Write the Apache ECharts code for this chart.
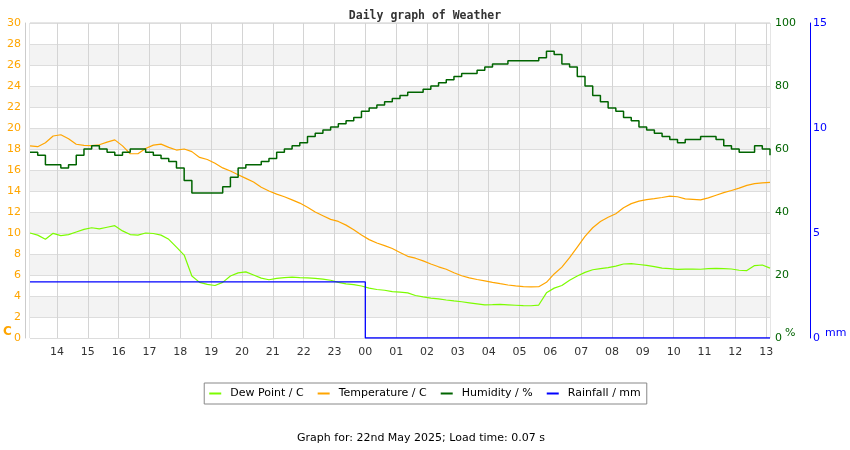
<!DOCTYPE html>
<html>
<head>
<meta charset="utf-8">
<script src="https://cdn.jsdelivr.net/npm/echarts@6/dist/echarts.min.js"></script>
<style>
html,body{margin:0;padding:0;background:#fff;}
#chart{width:850px;height:450px;}
</style>
</head>
<body>
<div id="chart"></div>
<script>
// time axis: hours since 21 May 13:00; samples every 15 minutes starting 13:07:30
const startHour = 0.125;
const stepHours = 0.25;
const hourTicks = [1,2,3,4,5,6,7,8,9,10,11,12,13,14,15,16,17,18,19,20,21,22,23,24];
const hourLabels = ['14','15','16','17','18','19','20','21','22','23','00','01','02','03','04','05','06','07','08','09','10','11','12','13'];

const temperatureC = [
 18.3,18.22,18.6,19.24,19.36,18.98,18.45,18.35,18.32,18.4,
 18.65,18.87,18.3,17.55,17.55,18.05,18.37,18.46,18.15,17.9,
 18.0,17.75,17.2,17.0,16.65,16.2,15.9,15.55,15.2,14.85,
 14.35,14.0,13.7,13.45,13.15,12.85,12.45,12.0,11.65,11.3,
 11.1,10.75,10.3,9.8,9.37,9.05,8.8,8.52,8.15,7.78,
 7.6,7.35,7.05,6.78,6.55,6.22,5.93,5.73,5.57,5.44,
 5.3,5.17,5.05,4.96,4.89,4.87,4.88,5.3,6.1,6.75,
 7.65,8.65,9.67,10.5,11.1,11.5,11.83,12.4,12.8,13.03,
 13.18,13.27,13.38,13.52,13.45,13.25,13.2,13.15,13.35,13.6,
 13.85,14.05,14.27,14.53,14.7,14.78,14.83
];

const dewPointC = [
 10.0,9.8,9.4,9.97,9.75,9.85,10.1,10.35,10.5,10.4,
 10.55,10.7,10.2,9.85,9.8,10.0,9.95,9.8,9.4,8.65,
 7.9,5.9,5.3,5.1,5.0,5.3,5.9,6.2,6.3,6.0,
 5.7,5.55,5.68,5.75,5.8,5.75,5.72,5.68,5.6,5.5,
 5.3,5.15,5.08,4.95,4.75,4.62,4.55,4.42,4.37,4.3,
 4.05,3.92,3.8,3.72,3.62,3.53,3.45,3.35,3.25,3.15,
 3.17,3.2,3.16,3.12,3.08,3.07,3.14,4.3,4.75,5.0,
 5.5,5.9,6.25,6.5,6.6,6.7,6.85,7.05,7.08,7.0,
 6.92,6.8,6.65,6.6,6.54,6.56,6.57,6.55,6.6,6.63,
 6.6,6.57,6.45,6.42,6.9,6.95,6.65
];

const humidityPct = [
 59,58,55,55,54,55,58,60,61,60,
 59,58,59,60,60,59,58,57,56,54,
 50,46,46,46,46,48,51,54,55,55,
 56,57,59,60,61,62,64,65,66,67,
 68,69,70,72,73,74,75,76,77,78,
 78,79,80,81,82,83,84,84,85,86,
 87,87,88,88,88,88,89,91,90,87,
 86,83,80,77,75,73,72,70,69,67,
 66,65,64,63,62,63,63,64,64,63,
 61,60,59,59,61,60,58
];

const rainTimes = [0.125, 11, 11, 24.125];
const rainMM = [2.67, 2.67, 0, 0];

function pairs(arr){ return arr.map((v,i)=>[startHour + i*stepHours, v]); }
const rainData = rainTimes.map((t,i)=>[t, rainMM[i]]);

const FONT = 'DejaVu Sans';
const chart = echarts.init(document.getElementById('chart'), null, {renderer:'canvas'});
chart.setOption({
  animation: false,
  backgroundColor: '#ffffff',
  title: {
    text: 'Daily graph of Weather',
    left: 'center', top: 5,
    textStyle: {fontFamily: 'DejaVu Sans Mono', fontWeight: 'bold', fontSize: 11.5, color: '#333'}
  },
  grid: {
    left: 30, right: 80, top: 23, bottom: 112,
    containLabel: false, outerBoundsMode: 'none',
    show: true, borderColor: '#cccccc', borderWidth: 1, backgroundColor: 'transparent'
  },
  legend: {
    top: 383, left: 'center',
    padding: [5, 6, 5, 5],
    borderColor: '#888', borderWidth: 1,
    itemWidth: 12, itemHeight: 2, itemGap: 14,
    icon: 'rect',
    textStyle: {fontFamily: FONT, fontSize: 11, color: '#000', padding: [0,0,0,4]},
    data: ['Dew Point / C','Temperature / C','Humidity / %','Rainfall / mm']
  },
  xAxis: {
    type: 'value', min: startHour, max: startHour + 24,
    axisLine: {show: false},
    axisTick: {show: false, customValues: hourTicks},
    axisLabel: {
      customValues: hourTicks,
      formatter: v => hourLabels[Math.round(v) - 1],
      color: '#333', fontFamily: FONT, fontSize: 11, margin: 9
    },
    splitLine: {show: true, lineStyle: {color: '#d4d4d4', width: 1}}
  },
  yAxis: [
    {
      type: 'value', min: 0, max: 30, interval: 2, position: 'left', offset: 5,
      axisLine: {show: true, lineStyle: {color: '#cccccc'}},
      axisTick: {show: false},
      axisLabel: {color: '#ffa500', fontFamily: FONT, fontSize: 11, margin: 4},
      splitLine: {show: true, lineStyle: {color: '#dddddd', width: 1}},
      splitArea: {show: true, areaStyle: {color: ['#ffffff', '#f3f3f3']}}
    },
    {
      type: 'value', min: 0, max: 100, interval: 20, position: 'right',
      axisLine: {show: false}, axisTick: {show: false},
      axisLabel: {color: '#006400', fontFamily: FONT, fontSize: 11, margin: 5},
      splitLine: {show: false}
    },
    {
      type: 'value', min: 0, max: 15, interval: 5, position: 'right', offset: 40,
      axisLine: {show: true, lineStyle: {color: '#0000ff', width: 1}}, axisTick: {show: false},
      axisLabel: {color: '#0000ff', fontFamily: FONT, fontSize: 11, margin: 3},
      splitLine: {show: false}
    }
  ],
  series: [
    {
      name: 'Dew Point / C', type: 'line', yAxisIndex: 0, data: pairs(dewPointC),
      showSymbol: false, color: '#7cfc00', lineStyle: {width: 1.2, color: '#7cfc00'}
    },
    {
      name: 'Temperature / C', type: 'line', yAxisIndex: 0, data: pairs(temperatureC),
      showSymbol: false, color: '#ffa500', lineStyle: {width: 1.2, color: '#ffa500'}
    },
    {
      name: 'Humidity / %', type: 'line', yAxisIndex: 1, data: pairs(humidityPct), step: 'end',
      showSymbol: false, color: '#006400', lineStyle: {width: 1.5, color: '#006400'}
    },
    {
      name: 'Rainfall / mm', type: 'line', yAxisIndex: 2, data: rainData,
      showSymbol: false, color: '#0000ff', lineStyle: {width: 1.3, color: '#0000ff'}
    }
  ],
  graphic: [
    {type: 'text', left: 3, top: 326, style: {text: 'C', fill: '#ffa500', font: 'bold 12px "DejaVu Sans"'}},
    {type: 'text', left: 785, top: 328, style: {text: '%', fill: '#006400', font: '11px "DejaVu Sans"'}},
    {type: 'text', left: 825, top: 328, style: {text: 'mm', fill: '#0000ff', font: '11px "DejaVu Sans"'}},
    {type: 'text', x: 421, y: 438, style: {text: 'Graph for: 22nd May 2025; Load time: 0.07 s', fill: '#000', font: '11px "DejaVu Sans"', textAlign: 'center', textVerticalAlign: 'middle'}}
  ]
});
</script>
</body>
</html>
